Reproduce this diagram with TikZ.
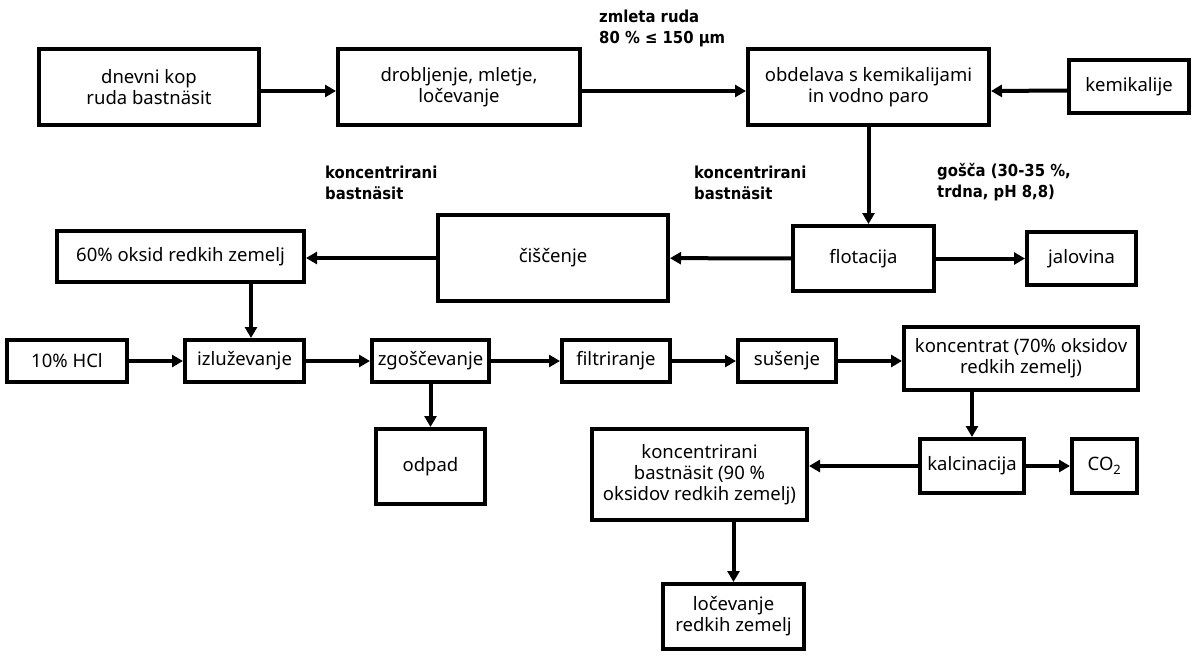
\documentclass[tikz,border=0pt]{standalone}
\usepackage{fontspec}
\setmainfont{Noto Sans}
\newfontfamily\lblfont{DejaVu Sans Condensed Bold}
\usetikzlibrary{arrows.meta}
\begin{document}
\begin{tikzpicture}[x=1pt,y=-1pt,
  box/.style={draw, line width=4pt, rectangle, align=center, inner sep=0pt,
    font=\fontsize{18.5}{21}\selectfont},
  lbl/.style={align=left, inner sep=0pt, font=\lblfont\fontsize{16.5}{21}\selectfont},
  arr/.style={line width=4pt, -{Triangle[length=11pt,width=12pt]}}]
\useasboundingbox[fill=white] (0,0) rectangle (1200,658);
% row 1
\node[box, minimum width=220pt, minimum height=76pt] (dnevni) at (149,87) {dnevni kop\\ruda bastnäsit};
\node[box, minimum width=242pt, minimum height=76pt] (drob) at (459,87) {drobljenje, mletje,\\ločevanje};
\node[box, minimum width=241pt, minimum height=76pt] (obd) at (868.5,87) {obdelava s kemikalijami\\in vodno paro};
\node[box, minimum width=120pt, minimum height=53pt] (kem) at (1129,86.5) {kemikalije};
% row 2
\node[box, minimum width=141pt, minimum height=65pt] (flot) at (863.5,258.5) {flotacija};
\node[box, minimum width=109pt, minimum height=53pt] (jal) at (1081.5,258.5) {jalovina};
\node[box, minimum width=230pt, minimum height=86pt] (cisc) at (553,258) {čiščenje};
\node[box, minimum width=247pt, minimum height=51pt] (p60) at (180.5,256.5) {60\% oksid redkih zemelj};
% row 3
\node[box, minimum width=120pt, minimum height=42pt] (hcl) at (67,361) {10\% HCl};
\node[box, minimum width=119pt, minimum height=42pt] (izl) at (244.5,361) {izluževanje};
\node[box, minimum width=117pt, minimum height=42pt] (zgo) at (430.5,361) {zgoščevanje};
\node[box, minimum width=108pt, minimum height=42pt] (filt) at (616,361) {filtriranje};
\node[box, minimum width=98pt, minimum height=42pt] (sus) at (787,361) {sušenje};
\node[box, minimum width=234pt, minimum height=63pt] (konc) at (1021,358.5) {koncentrat (70\% oksidov\\redkih zemelj)};
% row 4
\node[box, minimum width=109pt, minimum height=75pt] (odp) at (430.5,466.5) {odpad};
\node[box, minimum width=104pt, minimum height=54pt] (kalc) at (972,466) {kalcinacija};
\node[box, minimum width=65pt, minimum height=54pt] (co2) at (1104.5,466) {CO\textsubscript{2}};
\node[box, minimum width=215pt, minimum height=91pt] (k90) at (699.5,474.5) {koncentrirani\\bastnäsit (90 \%\\oksidov redkih zemelj)};
\node[box, minimum width=141pt, minimum height=65pt] (loc) at (733.5,616.5) {ločevanje\\redkih zemelj};
% labels
\node[lbl, anchor=north west] (zm) at (599,10) {zmleta ruda\\80 \% ≤ 150 µm};
\node[lbl, anchor=west] (kb1) at (325,182.5) {koncentrirani\\bastnäsit};
\node[lbl, anchor=west] (kb2) at (694,182.5) {koncentrirani\\bastnäsit};
\node[lbl, anchor=west] (gos) at (937,182.5) {gošča (30-35 \%,\\trdna, pH 8,8)};
% connectors
\draw[arr] ([yshift=-4pt]dnevni.east) -- ([yshift=-4pt]drob.west);
\draw[arr] ([yshift=-4pt]drob.east) -- ([yshift=-4pt]obd.west);
\draw[arr] ([yshift=-4pt]kem.west) -- ([yshift=-4pt]obd.east);
\draw[arr] (obd.south) -- (obd.south |- flot.north);
\draw[arr] (flot) -- (jal);
\draw[arr] (flot) -- (cisc);
\draw[arr] (cisc.west) -- (cisc.west -| p60.east);
\draw[arr] ([xshift=6.5pt]izl.north |- p60.south) -- ([xshift=6.5pt]izl.north);
\draw[arr] (hcl) -- (izl);
\draw[arr] (izl) -- (zgo);
\draw[arr] (zgo) -- (filt);
\draw[arr] (filt) -- (sus);
\draw[arr] (sus.east) -- (sus.east -| konc.west);
\draw[arr] (zgo) -- (odp);
\draw[arr] (kalc.north |- konc.south) -- (kalc.north);
\draw[arr] (kalc) -- (co2);
\draw[arr] (kalc.west) -- (kalc.west -| k90.east);
\draw[arr] (loc.north |- k90.south) -- (loc.north);
\end{tikzpicture}
\end{document}
